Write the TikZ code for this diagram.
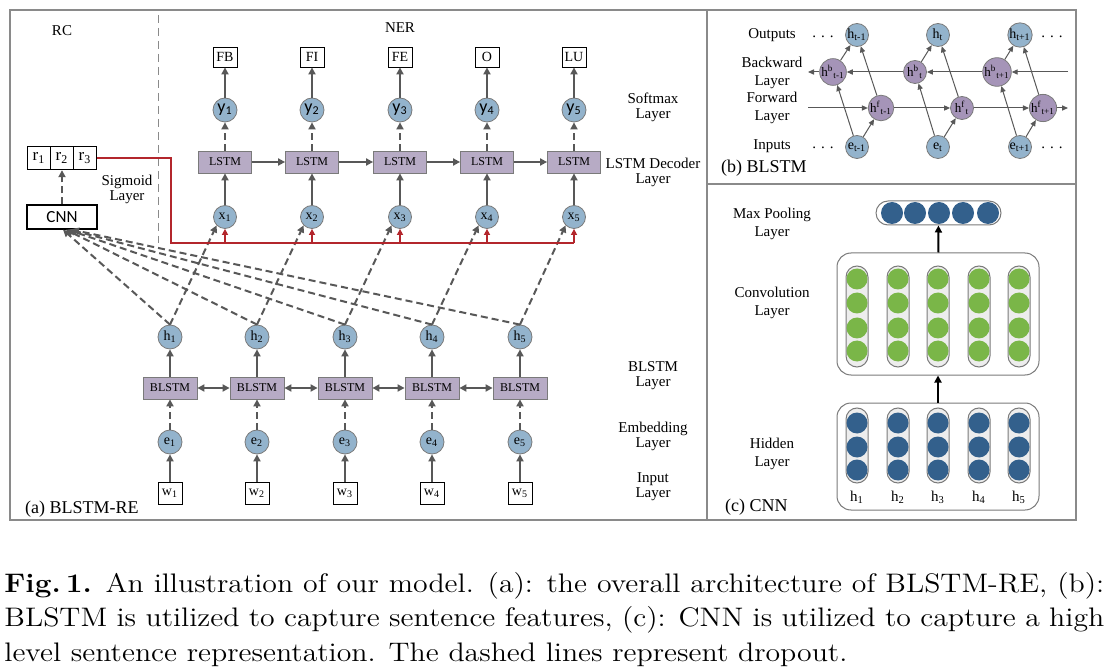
\documentclass[tikz,border=0pt]{standalone}
\usepackage{fontspec}
\newfontfamily\tms{Liberation Serif}
\newfontfamily\crl{Carlito}
\usetikzlibrary{arrows.meta}

\definecolor{nodeblue}{HTML}{93B3CC}
\definecolor{nodepurple}{HTML}{A594B8}
\definecolor{boxpurple}{HTML}{B7ABC5}
\definecolor{bordgray}{HTML}{7A7A7A}
\definecolor{linegray}{HTML}{585858}
\definecolor{framegray}{HTML}{8A8A8A}
\definecolor{redline}{HTML}{B3262C}
\definecolor{convgreen}{HTML}{7AB648}
\definecolor{hidblue}{HTML}{33608C}
\definecolor{capsgray}{HTML}{EDEDED}

\begin{document}
\begin{tikzpicture}[x=0.5pt,y=-0.5pt,font=\tms\fontsize{7}{8}\selectfont,
	blob/.style={circle,draw=bordgray,fill=nodeblue,minimum size=12pt,inner sep=0pt},
	pblob/.style={blob,fill=nodepurple,minimum size=11.5pt,font=\tms\fontsize{6.5}{6.5}\selectfont},
	yblob/.style={blob,font=\crl\fontsize{9}{9}\selectfont},
	lstmbox/.style={draw=bordgray,fill=boxpurple,minimum width=26.5pt,minimum height=11pt,inner sep=0pt,font=\tms\fontsize{6}{6}\selectfont},
	tagbox/.style={draw=black,fill=white,minimum width=12pt,minimum height=10pt,inner sep=1pt,font=\tms\fontsize{7}{7}\selectfont},
	rcell/.style={draw=black,line width=0.7pt,minimum width=11.7pt,minimum height=11.5pt,inner sep=0pt,font=\tms\fontsize{8.5}{8.5}\selectfont},
	lab/.style={align=center,font=\tms\fontsize{7.5}{7.5}\selectfont},
	labb/.style={align=center,font=\tms\fontsize{7.5}{8.8}\selectfont},
	panel/.style={anchor=west,font=\tms\fontsize{9}{9}\selectfont},
	arr/.style={draw=linegray,line width=1pt,-{Triangle[length=3.5pt,width=3.5pt]}},
	darr/.style={arr,dash pattern=on 3.5pt off 2pt},
	biarr/.style={arr,{Triangle[length=3.5pt,width=3.5pt]}-{Triangle[length=3.5pt,width=3.5pt]}},
	redarr/.style={draw=redline,line width=0.8pt,-{Triangle[length=3pt,width=3pt]}},
	tarr/.style={draw=linegray,line width=0.5pt,-{Triangle[length=3pt,width=2.6pt]}},
	frame/.style={draw=framegray,line width=0.7pt},
	caps/.style={draw=bordgray,fill=capsgray,line width=0.5pt,rounded corners=5.5pt},
	group/.style={draw=bordgray,fill=white,line width=0.5pt,rounded corners=7pt,inner sep=0pt},
	]
	\useasboundingbox (0,0) rectangle (1114,668);
	
	\draw[frame] (10,10) rectangle (1076,520);
	\draw[frame] (707,10) -- (707,520);
	\draw[frame] (707,184) -- (1076,184);
	\draw[framegray,line width=0.5pt,dash pattern=on 4pt off 2.5pt] (158,15) -- (158,243);
	
	\node[lab] (rc) at (62,31) {RC};
	\node[lab] (ner) at (400,28) {NER};
	\node[lab] (sig) at (127,189) {Sigmoid\\Layer};
	\node[lab] (soft) at (653,107) {Softmax\\Layer};
	\node[lab] (dec) at (653,172) {LSTM Decoder\\Layer};
	\node[lab] (blay) at (653,376) {BLSTM\\Layer};
	\node[lab] (elay) at (653,436) {Embedding\\Layer};
	\node[lab] (ilay) at (653,487) {Input\\Layer};
	\node[panel] (pa) at (18,509) {(a) BLSTM-RE};
	
	\node[tagbox] (out1) at (225,57) {FB};
	\node[tagbox] (out2) at (312,57) {FI};
	\node[tagbox] (out3) at (400,57) {FE};
	\node[tagbox] (out4) at (487,57) {O};
	\node[tagbox] (out5) at (574,57) {LU};
	
	\node[yblob] (y1) at (225,110) {y\textsubscript{1}};
	\node[yblob] (y2) at (312,110) {y\textsubscript{2}};
	\node[yblob] (y3) at (400,110) {y\textsubscript{3}};
	\node[yblob] (y4) at (487,110) {y\textsubscript{4}};
	\node[yblob] (y5) at (574,110) {y\textsubscript{5}};
	
	\node[lstmbox] (l1) at (225,162) {LSTM};
	\node[lstmbox] (l2) at (312,162) {LSTM};
	\node[lstmbox] (l3) at (400,162) {LSTM};
	\node[lstmbox] (l4) at (487,162) {LSTM};
	\node[lstmbox] (l5) at (574,162) {LSTM};
	
	\node[blob,minimum size=11.5pt] (x1) at (225,217) {x\textsubscript{1}};
	\node[blob,minimum size=11.5pt] (x2) at (312,217) {x\textsubscript{2}};
	\node[blob,minimum size=11.5pt] (x3) at (400,217) {x\textsubscript{3}};
	\node[blob,minimum size=11.5pt] (x4) at (487,217) {x\textsubscript{4}};
	\node[blob,minimum size=11.5pt] (x5) at (574,217) {x\textsubscript{5}};
	
	\node[blob] (h1) at (170,337) {h\textsubscript{1}};
	\node[blob] (h2) at (257,337) {h\textsubscript{2}};
	\node[blob] (h3) at (345,337) {h\textsubscript{3}};
	\node[blob] (h4) at (432,337) {h\textsubscript{4}};
	\node[blob] (h5) at (520,337) {h\textsubscript{5}};
	
	\node[lstmbox,minimum width=27pt] (b1) at (170,388) {BLSTM};
	\node[lstmbox,minimum width=27pt] (b2) at (257,388) {BLSTM};
	\node[lstmbox,minimum width=27pt] (b3) at (345,388) {BLSTM};
	\node[lstmbox,minimum width=27pt] (b4) at (432,388) {BLSTM};
	\node[lstmbox,minimum width=27pt] (b5) at (520,388) {BLSTM};
	
	\node[blob] (e1) at (170,442) {e\textsubscript{1}};
	\node[blob] (e2) at (257,442) {e\textsubscript{2}};
	\node[blob] (e3) at (345,442) {e\textsubscript{3}};
	\node[blob] (e4) at (432,442) {e\textsubscript{4}};
	\node[blob] (e5) at (520,442) {e\textsubscript{5}};
	
	\node[tagbox,minimum height=11pt] (w1) at (170,493) {w\textsubscript{1}};
	\node[tagbox,minimum height=11pt] (w2) at (257,493) {w\textsubscript{2}};
	\node[tagbox,minimum height=11pt] (w3) at (345,493) {w\textsubscript{3}};
	\node[tagbox,minimum height=11pt] (w4) at (432,493) {w\textsubscript{4}};
	\node[tagbox,minimum height=11pt] (w5) at (520,493) {w\textsubscript{5}};
	
	\node[rcell] (r1) at (39,158) {r\textsubscript{1}};
	\node[rcell] (r2) at (62,158) {r\textsubscript{2}};
	\node[rcell] (r3) at (85,158) {r\textsubscript{3}};
	\node[draw=black,line width=0.7pt,minimum width=35pt,minimum height=12pt,inner sep=0pt,font=\crl\fontsize{8.5}{8.5}\selectfont] (cnn) at (62,217) {CNN};
	
	\coordinate (rtop) at (171,158);
	\coordinate (rbot) at (171,243);
	\coordinate (rend) at (574,243);
	
	\draw[arr] (l1) -- (l2);
	\draw[arr] (l2) -- (l3);
	\draw[arr] (l3) -- (l4);
	\draw[arr] (l4) -- (l5);
	\draw[darr] (l1) -- (y1);
	\draw[darr] (l2) -- (y2);
	\draw[darr] (l3) -- (y3);
	\draw[darr] (l4) -- (y4);
	\draw[darr] (l5) -- (y5);
	\draw[arr] (y1) -- (out1);
	\draw[arr] (y2) -- (out2);
	\draw[arr] (y3) -- (out3);
	\draw[arr] (y4) -- (out4);
	\draw[arr] (y5) -- (out5);
	\draw[arr] (x1) -- (l1);
	\draw[arr] (x2) -- (l2);
	\draw[arr] (x3) -- (l3);
	\draw[arr] (x4) -- (l4);
	\draw[arr] (x5) -- (l5);
	
	\draw[biarr] (b1) -- (b2);
	\draw[biarr] (b2) -- (b3);
	\draw[biarr] (b3) -- (b4);
	\draw[biarr] (b4) -- (b5);
	\draw[arr] (b1) -- (h1);
	\draw[arr] (b2) -- (h2);
	\draw[arr] (b3) -- (h3);
	\draw[arr] (b4) -- (h4);
	\draw[arr] (b5) -- (h5);
	\draw[darr] (e1) -- (b1);
	\draw[darr] (e2) -- (b2);
	\draw[darr] (e3) -- (b3);
	\draw[darr] (e4) -- (b4);
	\draw[darr] (e5) -- (b5);
	\draw[arr] (w1) -- (e1);
	\draw[arr] (w2) -- (e2);
	\draw[arr] (w3) -- (e3);
	\draw[arr] (w4) -- (e4);
	\draw[arr] (w5) -- (e5);
	
	\draw[darr] (h1.north) -- (x1.south west);
	\draw[darr] (h2.north) -- (x2.south west);
	\draw[darr] (h3.north) -- (x3.south west);
	\draw[darr] (h4.north) -- (x4.south west);
	\draw[darr] (h5.north) -- (x5.south west);
	\draw[darr] (h1.north) -- ([xshift=0.5pt]cnn.south);
	\draw[darr] (h2.north) -- ([xshift=2pt]cnn.south);
	\draw[darr] (h3.north) -- ([xshift=3pt]cnn.south);
	\draw[darr] (h4.north) -- ([xshift=4pt]cnn.south);
	\draw[darr] (h5.north) -- ([xshift=5pt]cnn.south);
	\draw[darr] (cnn) -- (r2);
	
	\draw[redline,line width=0.8pt] (r3.east) -- (rtop) -- (rbot) -- (rend);
	\draw[redarr] (x1 |- rbot) -- (x1);
	\draw[redarr] (x2 |- rbot) -- (x2);
	\draw[redarr] (x3 |- rbot) -- (x3);
	\draw[redarr] (x4 |- rbot) -- (x4);
	\draw[redarr] (x5 |- rbot) -- (x5);
	
	\node[labb] (outs) at (772,35) {Outputs};
	\node[labb] (bwd) at (772,73) {Backward\\Layer};
	\node[labb] (fwd) at (772,108) {Forward\\Layer};
	\node[labb] (ins) at (772,146) {Inputs};
	\node[panel] (pb) at (714,168) {(b) BLSTM};
	\node[labb] (dots1) at (823,37) {. . .};
	\node[labb] (dots2) at (1052,37) {. . .};
	\node[labb] (dots3) at (823,148) {. . .};
	\node[labb] (dots4) at (1052,148) {. . .};
	
	\node[blob,minimum size=11.5pt] (ho1) at (857,35) {h\textsubscript{t-1}};
	\node[blob,minimum size=11.5pt] (ho2) at (938,35) {h\textsubscript{t}};
	\node[blob,minimum size=11.5pt] (ho3) at (1020,35) {h\textsubscript{t+1}};
	\node[pblob] (hb1) at (833,72) {h\textsuperscript{b}\textsubscript{t-1}};
	\node[pblob] (hb2) at (915,72) {h\textsuperscript{b}\textsubscript{t}};
	\node[pblob] (hb3) at (997,72) {h\textsuperscript{b}\textsubscript{t+1}};
	\node[pblob] (hf1) at (881,108) {h\textsuperscript{f}\textsubscript{t-1}};
	\node[pblob] (hf2) at (962,108) {h\textsuperscript{f}\textsubscript{t}};
	\node[pblob] (hf3) at (1043,108) {h\textsuperscript{f}\textsubscript{t+1}};
	\node[blob,minimum size=11.5pt] (ei1) at (857,147) {e\textsubscript{t-1}};
	\node[blob,minimum size=11.5pt] (ei2) at (938,147) {e\textsubscript{t}};
	\node[blob,minimum size=11.5pt] (ei3) at (1020,147) {e\textsubscript{t+1}};
	
	\coordinate (bl) at (808,72);
	\coordinate (br) at (1068,72);
	\coordinate (fl) at (808,108);
	\coordinate (fr) at (1068,108);
	
	\draw[tarr] (br) -- (hb3);
	\draw[tarr] (hb3) -- (hb2);
	\draw[tarr] (hb2) -- (hb1);
	\draw[tarr] (hb1) -- (bl);
	\draw[tarr] (fl) -- (hf1);
	\draw[tarr] (hf1) -- (hf2);
	\draw[tarr] (hf2) -- (hf3);
	\draw[tarr] (hf3) -- (fr);
	\draw[tarr] (ei1) -- (hb1);
	\draw[tarr] (ei1) -- (hf1);
	\draw[tarr] (hb1) -- (ho1);
	\draw[tarr] (hf1) -- (ho1);
	\draw[tarr] (ei2) -- (hb2);
	\draw[tarr] (ei2) -- (hf2);
	\draw[tarr] (hb2) -- (ho2);
	\draw[tarr] (hf2) -- (ho2);
	\draw[tarr] (ei3) -- (hb3);
	\draw[tarr] (ei3) -- (hf3);
	\draw[tarr] (hb3) -- (ho3);
	\draw[tarr] (hf3) -- (ho3);
	
	\node[labb] (mpl) at (772,224) {Max Pooling\\Layer};
	\node[labb] (cvl) at (772,303) {Convolution\\Layer};
	\node[labb] (hdl) at (772,454) {Hidden\\Layer};
	\node[panel] (pc) at (718,507) {(c) CNN};
	
	\node[group,rounded corners=6pt,minimum width=62.5pt,minimum height=12pt] (pool) at (938.5,213) {};
	\node[group,minimum width=101pt,minimum height=61pt] (conv) at (938,314) {};
	\node[group,minimum width=101pt,minimum height=53.5pt] (hid) at (938,456.5) {};
	\draw[arr,draw=black] (hid) -- (conv);
	\draw[arr,draw=black] (conv) -- (pool);
	
	\fill[hidblue] (892,213) circle [radius=11];
	\fill[hidblue] (915,213) circle [radius=11];
	\fill[hidblue] (939,213) circle [radius=11];
	\fill[hidblue] (963,213) circle [radius=11];
	\fill[hidblue] (988,213) circle [radius=11];
	
	\draw[caps] (846,266) rectangle (868,367);
	\draw[caps] (887,266) rectangle (909,367);
	\draw[caps] (927,266) rectangle (949,367);
	\draw[caps] (968,266) rectangle (990,367);
	\draw[caps] (1008,266) rectangle (1030,367);
	\fill[convgreen] (857,279) circle [radius=10.5];
	\fill[convgreen] (857,303) circle [radius=10.5];
	\fill[convgreen] (857,328) circle [radius=10.5];
	\fill[convgreen] (857,351) circle [radius=10.5];
	\fill[convgreen] (898,279) circle [radius=10.5];
	\fill[convgreen] (898,303) circle [radius=10.5];
	\fill[convgreen] (898,328) circle [radius=10.5];
	\fill[convgreen] (898,351) circle [radius=10.5];
	\fill[convgreen] (938,279) circle [radius=10.5];
	\fill[convgreen] (938,303) circle [radius=10.5];
	\fill[convgreen] (938,328) circle [radius=10.5];
	\fill[convgreen] (938,351) circle [radius=10.5];
	\fill[convgreen] (979,279) circle [radius=10.5];
	\fill[convgreen] (979,303) circle [radius=10.5];
	\fill[convgreen] (979,328) circle [radius=10.5];
	\fill[convgreen] (979,351) circle [radius=10.5];
	\fill[convgreen] (1019,279) circle [radius=10.5];
	\fill[convgreen] (1019,303) circle [radius=10.5];
	\fill[convgreen] (1019,328) circle [radius=10.5];
	\fill[convgreen] (1019,351) circle [radius=10.5];
	
	\draw[caps] (846,408) rectangle (868,483);
	\draw[caps] (887,408) rectangle (909,483);
	\draw[caps] (927,408) rectangle (949,483);
	\draw[caps] (968,408) rectangle (990,483);
	\draw[caps] (1008,408) rectangle (1030,483);
	\fill[hidblue] (857,423) circle [radius=10.5];
	\fill[hidblue] (857,447) circle [radius=10.5];
	\fill[hidblue] (857,470) circle [radius=10.5];
	\fill[hidblue] (898,423) circle [radius=10.5];
	\fill[hidblue] (898,447) circle [radius=10.5];
	\fill[hidblue] (898,470) circle [radius=10.5];
	\fill[hidblue] (938,423) circle [radius=10.5];
	\fill[hidblue] (938,447) circle [radius=10.5];
	\fill[hidblue] (938,470) circle [radius=10.5];
	\fill[hidblue] (979,423) circle [radius=10.5];
	\fill[hidblue] (979,447) circle [radius=10.5];
	\fill[hidblue] (979,470) circle [radius=10.5];
	\fill[hidblue] (1019,423) circle [radius=10.5];
	\fill[hidblue] (1019,447) circle [radius=10.5];
	\fill[hidblue] (1019,470) circle [radius=10.5];
	
	\node[labb] (hc1) at (857,497) {h\textsubscript{1}};
	\node[labb] (hc2) at (898,497) {h\textsubscript{2}};
	\node[labb] (hc3) at (938,497) {h\textsubscript{3}};
	\node[labb] (hc4) at (979,497) {h\textsubscript{4}};
	\node[labb] (hc5) at (1019,497) {h\textsubscript{5}};
	
	\node[anchor=north west,xscale=1.111,transform shape,text width=495pt,align=justify,inner sep=0pt,font=\rmfamily\fontsize{13.4}{17.2}\selectfont] (cap) at (4,572) {\textbf{Fig.\,1.} An illustration of our model. (a): the overall architecture of BLSTM-RE, (b):\linebreak BLSTM is utilized to capture sentence features, (c): CNN is utilized to capture a high\linebreak level sentence representation. The dashed lines represent dropout.};
\end{tikzpicture}
\end{document}
